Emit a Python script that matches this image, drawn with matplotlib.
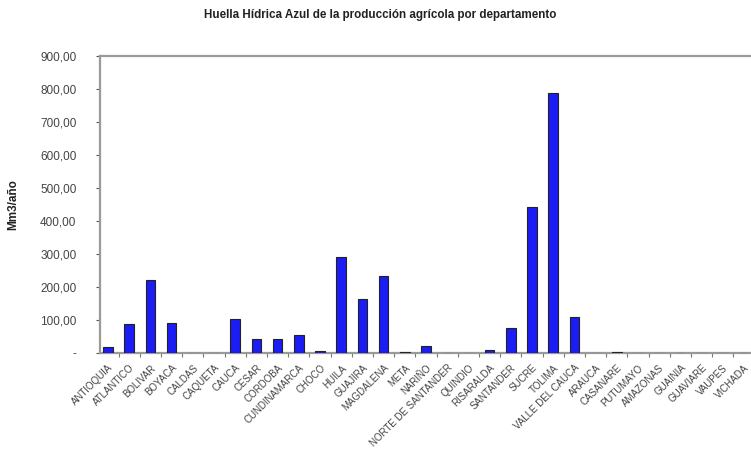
import numpy as np
import matplotlib
matplotlib.use("Agg")
import matplotlib.pyplot as plt
from matplotlib.ticker import FuncFormatter, FixedLocator

plt.rcParams['font.family'] = ['Liberation Sans', 'DejaVu Sans']

departamentos = ['ANTIOQUIA', 'ATLANTICO', 'BOLIVAR', 'BOYACA', 'CALDAS', 'CAQUETA',
                 'CAUCA', 'CESAR', 'CORDOBA', 'CUNDINAMARCA', 'CHOCO', 'HUILA',
                 'GUAJIRA', 'MAGDALENA', 'META', 'NARIÑO', 'NORTE DE SANTANDER',
                 'QUINDIO', 'RISARALDA', 'SANTANDER', 'SUCRE', 'TOLIMA',
                 'VALLE DEL CAUCA', 'ARAUCA', 'CASANARE', 'PUTUMAYO', 'AMAZONAS',
                 'GUAINIA', 'GUAVIARE', 'VAUPES', 'VICHADA']
huella_azul = [17, 88, 221, 91, 1.5, 1.5,
               104, 43, 42, 55, 5, 290,
               163, 234, 3, 22, 1,
               1, 9, 77, 443, 789,
               110, 0.3, 2, 0.2, 0.2,
               0.2, 0.2, 0.2, 0.2]
y_ticks = [0, 100, 200, 300, 400, 500, 600, 700, 800, 900]


def fmt_es(v, pos):
    # formato con coma decimal, el cero como guion
    if v == 0:
        return '-'
    return ('%.2f' % v).replace('.', ',')


fig = plt.figure(figsize=(7.51, 4.53), dpi=100)
# the original chart is cropped on the right, so the axes run past the edge
ax = fig.add_axes([100 / 751, 100 / 453, (783 - 100) / 751, (353 - 56) / 453])

x = np.arange(len(departamentos))
ax.bar(x, huella_azul, width=0.45, color='#1c1cf5', edgecolor='#222222', linewidth=0.8, zorder=3)

ax.set_xlim(-0.38, -0.38 + 683 / 21.2)
ax.set_ylim(0, 900)
ax.yaxis.set_major_locator(FixedLocator(y_ticks))
ax.yaxis.set_major_formatter(FuncFormatter(fmt_es))
ax.tick_params(axis='y', labelsize=8.5, colors='#555555', labelcolor='#444444', length=3, width=0.8, pad=14)
for lbl in ax.get_yticklabels():
    lbl.set_horizontalalignment('right')

ax.set_xticks(x)
ax.set_xticklabels(departamentos, rotation=45, ha='right', va='top', rotation_mode='anchor',
                   fontsize=7.0, color='#444444')
ax.set_xticks(np.arange(len(departamentos)) + 0.5, minor=True)
ax.tick_params(axis='x', which='major', length=0, pad=7)
ax.tick_params(axis='x', which='minor', length=3, width=0.8, color='#777777')

for side in ['left', 'bottom', 'top']:
    ax.spines[side].set_color('#9a9a9a')
    ax.spines[side].set_linewidth(1.6)
ax.spines['right'].set_visible(False)

ax.set_ylabel('Mm3/año', fontsize=8.5, fontweight='bold', color='#222222')
ax.yaxis.set_label_coords(-(100 - 19) / (783 - 100), 0.5)

fig.text(380 / 751, 1 - 15 / 453, 'Huella Hídrica Azul de la producción agrícola por departamento',
         ha='center', va='center', fontsize=8.4, fontweight='bold', color='#222222')

fig.savefig('out.png', dpi=100)
